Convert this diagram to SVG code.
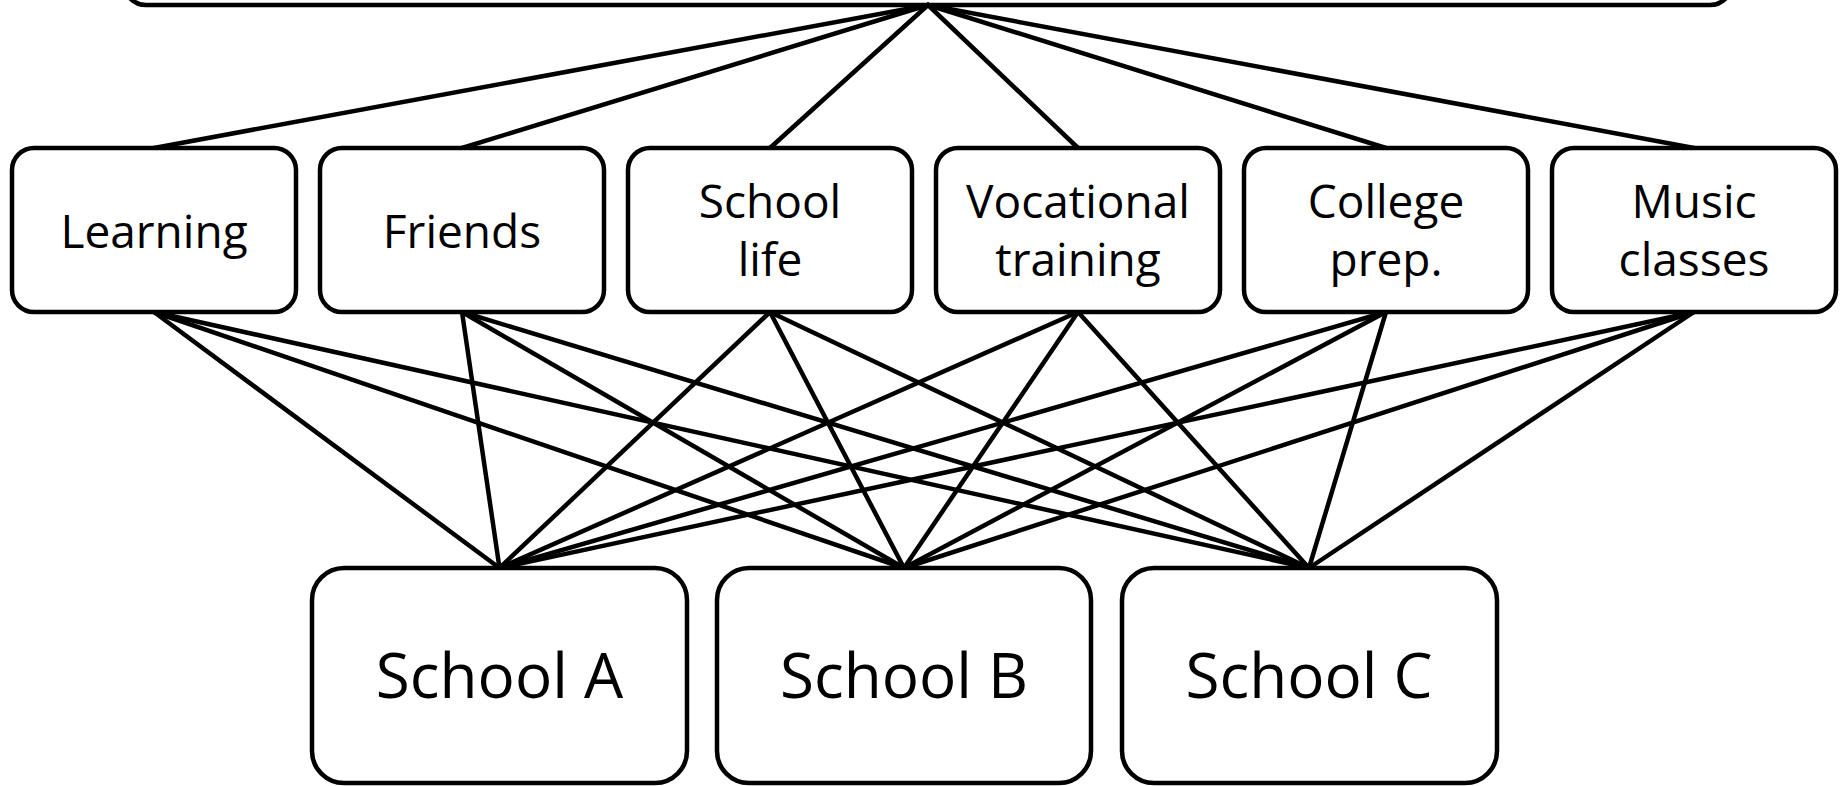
<svg xmlns="http://www.w3.org/2000/svg" width="1845" height="786" viewBox="0 0 1845 786">
<style>
.box{fill:#fff;stroke:#000;stroke-width:4.5}
.ln{stroke:#000;stroke-width:4.5;stroke-linecap:round}
.t{font-family:"Open Sans","Liberation Sans",sans-serif;font-size:46px;fill:#000;text-anchor:middle}
.tb{font-family:"Open Sans","Liberation Sans",sans-serif;font-size:62px;fill:#000;text-anchor:middle}
</style>
<rect width="1845" height="786" fill="#fff"/>
<g id="top"><rect class="box" x="124" y="-100" width="1608" height="105" rx="22"/></g>
<g id="connectors">
<line class="ln" x1="928" y1="5" x2="154" y2="148"/>
<line class="ln" x1="928" y1="5" x2="462" y2="148"/>
<line class="ln" x1="928" y1="5" x2="770" y2="148"/>
<line class="ln" x1="928" y1="5" x2="1078" y2="148"/>
<line class="ln" x1="928" y1="5" x2="1386" y2="148"/>
<line class="ln" x1="928" y1="5" x2="1694" y2="148"/>
<line class="ln" x1="154" y1="312" x2="499.5" y2="568"/>
<line class="ln" x1="154" y1="312" x2="904" y2="568"/>
<line class="ln" x1="154" y1="312" x2="1309" y2="568"/>
<line class="ln" x1="462" y1="312" x2="499.5" y2="568"/>
<line class="ln" x1="462" y1="312" x2="904" y2="568"/>
<line class="ln" x1="462" y1="312" x2="1309" y2="568"/>
<line class="ln" x1="770" y1="312" x2="499.5" y2="568"/>
<line class="ln" x1="770" y1="312" x2="904" y2="568"/>
<line class="ln" x1="770" y1="312" x2="1309" y2="568"/>
<line class="ln" x1="1078" y1="312" x2="499.5" y2="568"/>
<line class="ln" x1="1078" y1="312" x2="904" y2="568"/>
<line class="ln" x1="1078" y1="312" x2="1309" y2="568"/>
<line class="ln" x1="1386" y1="312" x2="499.5" y2="568"/>
<line class="ln" x1="1386" y1="312" x2="904" y2="568"/>
<line class="ln" x1="1386" y1="312" x2="1309" y2="568"/>
<line class="ln" x1="1694" y1="312" x2="499.5" y2="568"/>
<line class="ln" x1="1694" y1="312" x2="904" y2="568"/>
<line class="ln" x1="1694" y1="312" x2="1309" y2="568"/>
</g>
<g id="learning"><rect class="box" x="12" y="148" width="284" height="164" rx="22"/><text class="t" x="154" y="248">Learning</text></g>
<g id="friends"><rect class="box" x="320" y="148" width="284" height="164" rx="22"/><text class="t" x="462" y="248">Friends</text></g>
<g id="schoollife"><rect class="box" x="628" y="148" width="284" height="164" rx="22"/><text class="t" x="770" y="218">School</text><text class="t" x="770" y="276">life</text></g>
<g id="vocational"><rect class="box" x="936" y="148" width="284" height="164" rx="22"/><text class="t" x="1078" y="218">Vocational</text><text class="t" x="1078" y="276">training</text></g>
<g id="college"><rect class="box" x="1244" y="148" width="284" height="164" rx="22"/><text class="t" x="1386" y="218">College</text><text class="t" x="1386" y="276">prep.</text></g>
<g id="music"><rect class="box" x="1552" y="148" width="284" height="164" rx="22"/><text class="t" x="1694" y="218">Music</text><text class="t" x="1694" y="276">classes</text></g>
<g id="schoolA"><rect class="box" x="312" y="568" width="375" height="215" rx="32"/><text class="tb" x="499.5" y="698">School A</text></g>
<g id="schoolB"><rect class="box" x="717" y="568" width="374" height="215" rx="32"/><text class="tb" x="904" y="698">School B</text></g>
<g id="schoolC"><rect class="box" x="1122" y="568" width="375" height="215" rx="32"/><text class="tb" x="1309" y="698">School C</text></g>
</svg>
